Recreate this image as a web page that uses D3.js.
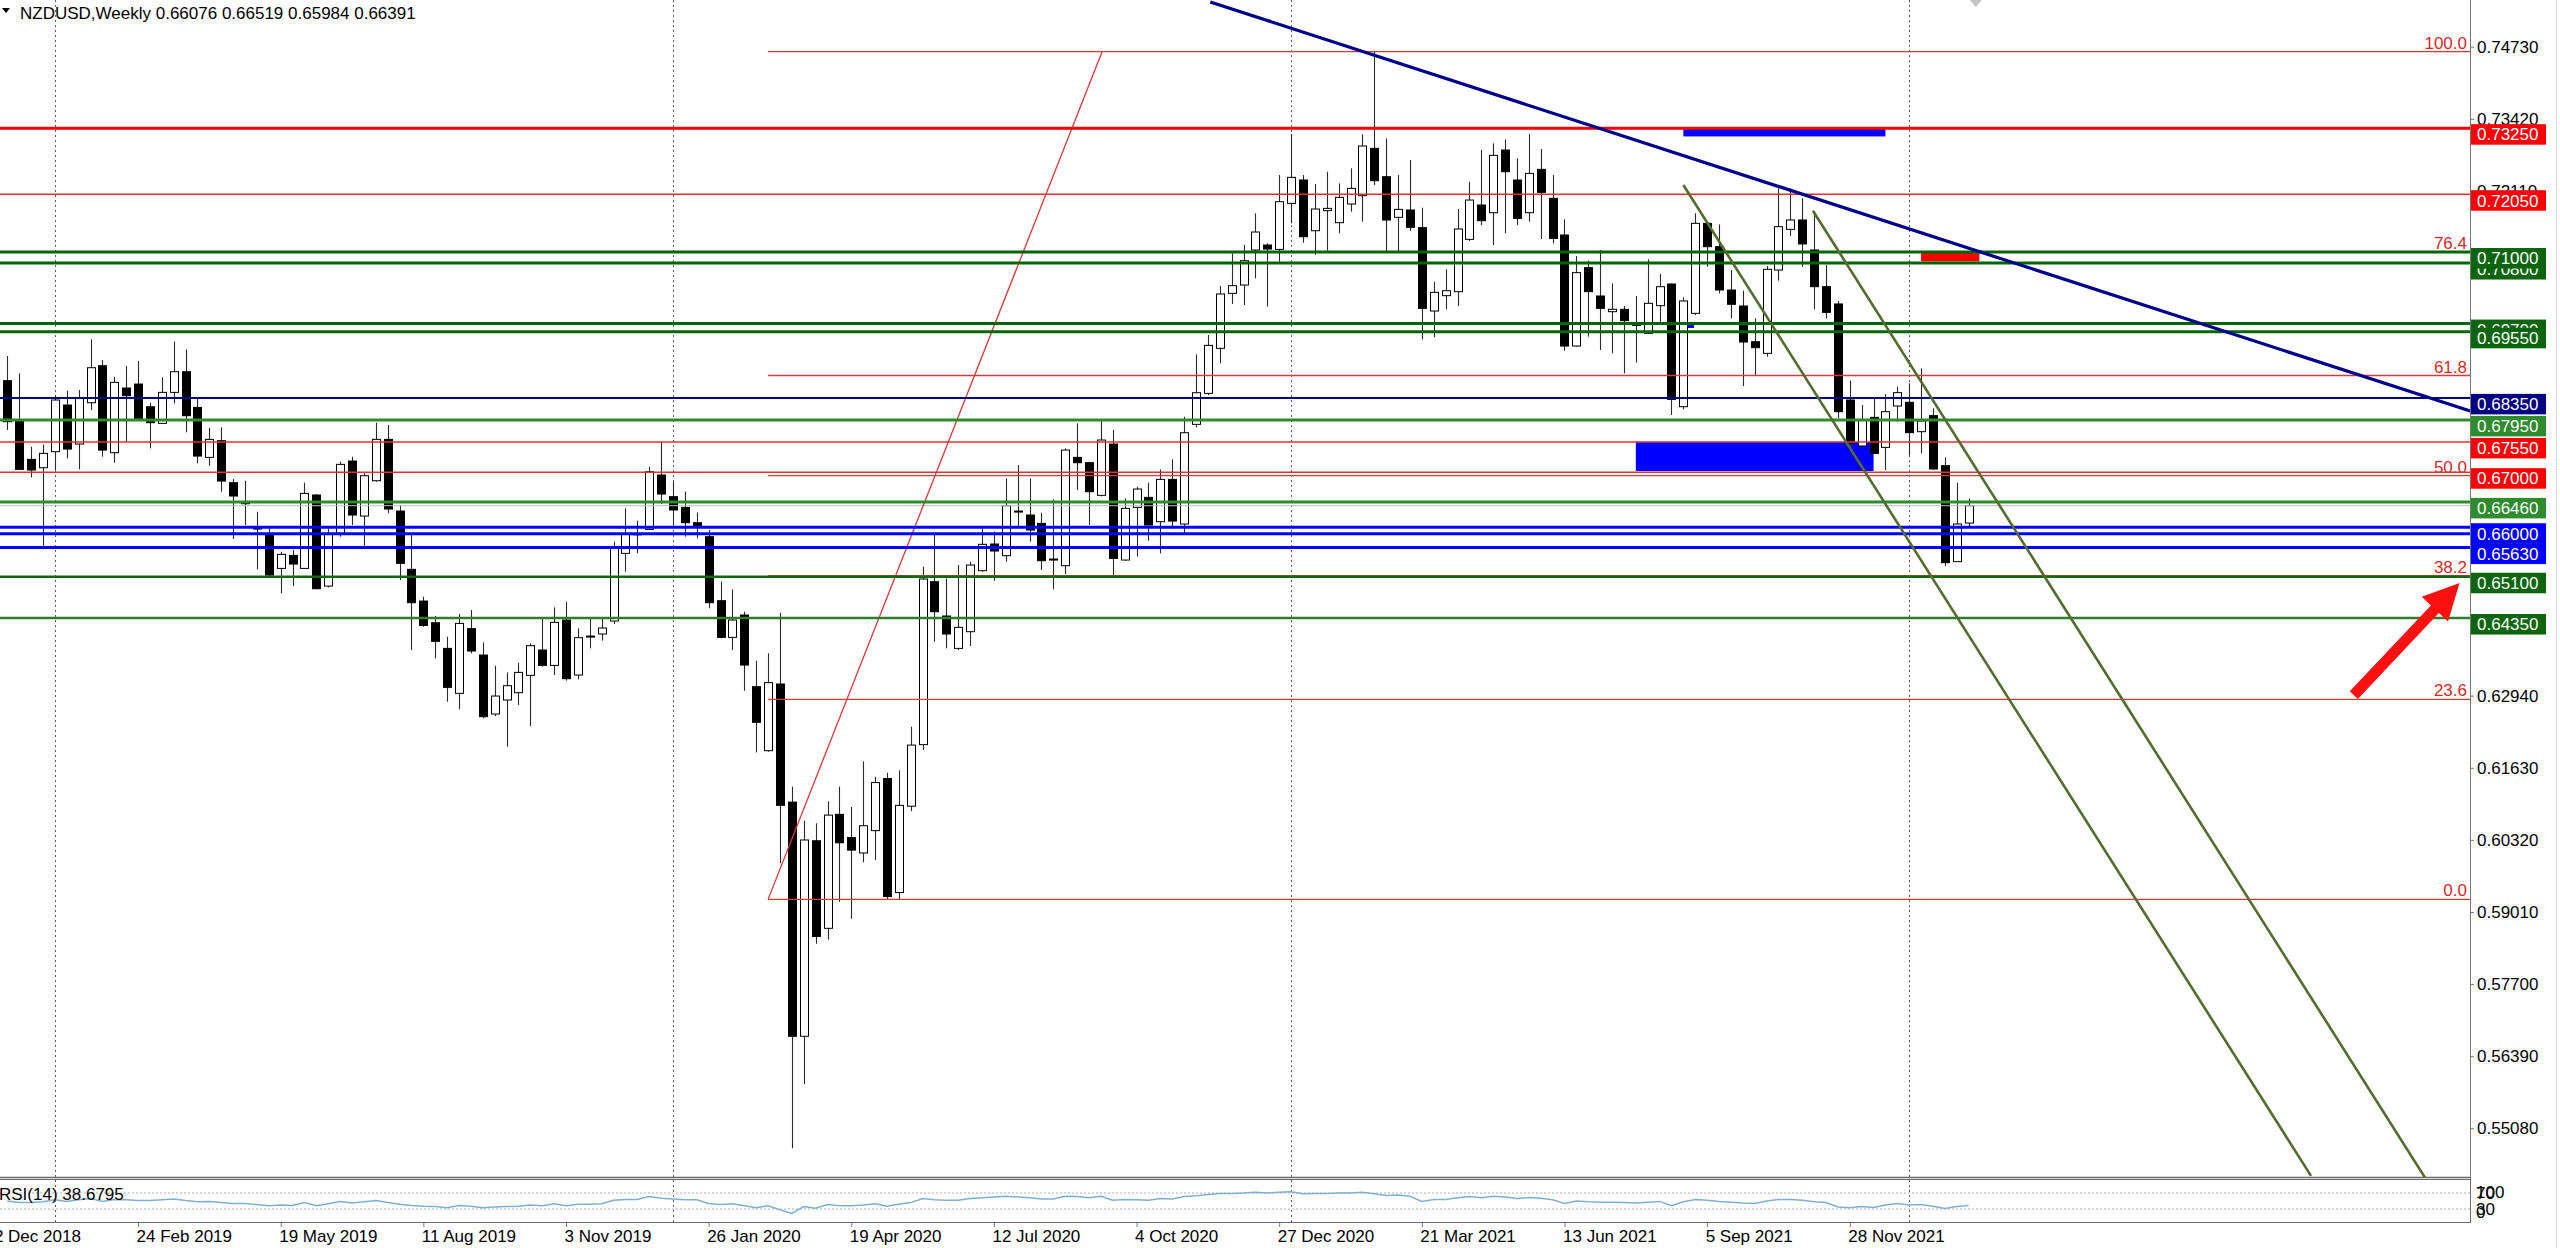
<!DOCTYPE html>
<html><head><meta charset="utf-8">
<script src="https://cdn.jsdelivr.net/npm/d3@7"></script>
<style>
html,body{margin:0;padding:0;background:#fff;overflow:hidden}
svg{display:block;font-family:"Liberation Sans",Arial,sans-serif}
</style></head><body>
<svg id="c" width="2560" height="1248"></svg>
<script>
// ---------------- DATA ----------------
const symbolTitle = "NZDUSD,Weekly";
const lastOHLC = ["0.66076", "0.66519", "0.65984", "0.66391"];

const opens = [0.68662,0.67947,0.67233,0.67081,0.67372,0.68220,0.67511,0.68262,0.68934,0.67354,
0.68529,0.68601,0.68189,0.67887,0.68450,0.68825,0.68177,0.67269,0.67572,0.66809,
0.66451,0.65985,0.65876,0.65252,0.65488,0.65252,0.66585,0.64931,0.65888,0.67202,
0.66203,0.66845,0.67596,0.66294,0.65235,0.64659,0.64265,0.63799,0.62982,0.64157,
0.63678,0.62606,0.62861,0.62994,0.63309,0.63769,0.63490,0.64314,0.63315,0.64023,
0.64060,0.64296,0.65525,0.65870,0.65961,0.66949,0.66555,0.66361,0.66082,0.65828,
0.64665,0.63999,0.64405,0.63103,0.61940,0.63152,0.61006,0.56752,0.60304,0.58713,
0.60784,0.60363,0.60082,0.60488,0.61435,0.59364,0.60932,0.62050,0.65010,0.64387,
0.63799,0.64102,0.65210,0.65695,0.65483,0.66294,0.66222,0.66070,0.65422,0.65301,
0.67269,0.67172,0.66579,0.67511,0.65404,0.66361,0.66542,0.66100,0.66869,0.66058,
0.67869,0.68432,0.69250,0.70249,0.70400,0.71036,0.71127,0.71048,0.71884,0.72308,
0.71387,0.71751,0.71533,0.71872,0.72023,0.72883,0.72368,0.71630,0.71763,0.71442,
0.69928,0.70207,0.70279,0.71230,0.71854,0.71714,0.72853,0.72308,0.71714,0.72502,
0.71975,0.71309,0.69292,0.70716,0.70201,0.69916,0.69959,0.69686,0.69523,0.70025,
0.70419,0.68190,0.69886,0.71521,0.71097,0.70310,0.70019,0.69371,0.69159,0.70673,
0.71412,0.71582,0.71037,0.70370,0.70056,0.68311,0.67476,0.67996,0.67451,0.68202,
0.68269,0.67736,0.68027,0.67118,0.65374,0.66076];

const highs = [0.69110,0.68795,0.67463,0.67505,0.68401,0.68480,0.68492,0.69413,0.69037,0.68734,
0.68928,0.69019,0.68262,0.68722,0.69370,0.69231,0.68341,0.67808,0.67814,0.66875,
0.66845,0.66282,0.65979,0.65555,0.65585,0.66809,0.66603,0.65979,0.67190,0.67281,
0.66978,0.67899,0.67857,0.66403,0.65858,0.64738,0.64387,0.64011,0.64423,0.64496,
0.63908,0.63484,0.63363,0.63539,0.63890,0.64344,0.64544,0.64647,0.64163,0.64344,
0.64344,0.65737,0.66343,0.66119,0.67100,0.67554,0.66827,0.66646,0.66270,0.65949,
0.65011,0.64871,0.64466,0.63575,0.63709,0.64446,0.61287,0.60673,0.60622,0.61021,
0.61287,0.60918,0.61746,0.61465,0.61539,0.61583,0.62375,0.65283,0.65888,0.65071,
0.65313,0.65374,0.65979,0.65919,0.66888,0.67130,0.66888,0.66264,0.66506,0.67433,
0.67887,0.67190,0.67947,0.67766,0.66524,0.66736,0.66809,0.67051,0.67233,0.68008,
0.69140,0.69492,0.70382,0.70975,0.71127,0.71702,0.71157,0.72399,0.73144,0.72399,
0.72235,0.72459,0.72247,0.72520,0.73138,0.74639,0.73065,0.72399,0.72671,0.71805,
0.70461,0.70685,0.71781,0.72278,0.72853,0.72974,0.73047,0.72701,0.73144,0.72871,
0.72399,0.71593,0.70928,0.70843,0.71037,0.70431,0.70019,0.70201,0.70867,0.70601,
0.70431,0.70177,0.71703,0.71540,0.71503,0.70673,0.70298,0.69795,0.70746,0.72157,
0.72157,0.71975,0.71745,0.70764,0.70110,0.68663,0.68221,0.68354,0.68420,0.68554,
0.68614,0.68887,0.68160,0.67270,0.66810,0.66519];

const lows = [0.67766,0.67039,0.66906,0.65616,0.67039,0.67251,0.67051,0.68129,0.67281,0.67172,
0.67554,0.67959,0.67432,0.67874,0.68250,0.67723,0.67160,0.67117,0.66645,0.65785,
0.66040,0.65234,0.65113,0.64798,0.64931,0.65240,0.64871,0.64907,0.65828,0.66040,
0.65634,0.66827,0.66252,0.65041,0.63769,0.64193,0.63618,0.62830,0.62691,0.63709,
0.62528,0.62570,0.62013,0.62770,0.62388,0.63466,0.63315,0.63212,0.63236,0.63799,
0.63939,0.64241,0.65192,0.65525,0.65949,0.66422,0.66040,0.65828,0.65798,0.64526,
0.63981,0.63769,0.63030,0.61910,0.61922,0.59897,0.54718,0.55887,0.58432,0.58506,
0.59194,0.58886,0.59912,0.59956,0.59231,0.59231,0.60843,0.61950,0.63920,0.63799,
0.63769,0.63842,0.65192,0.65028,0.65374,0.65979,0.65737,0.65222,0.64871,0.65150,
0.66676,0.66040,0.66560,0.65131,0.65392,0.65465,0.65755,0.65525,0.65979,0.65888,
0.67814,0.68402,0.68977,0.70055,0.70037,0.70521,0.70007,0.70824,0.71521,0.71169,
0.70945,0.71024,0.71339,0.71733,0.71551,0.72217,0.70988,0.71006,0.71381,0.69413,
0.69449,0.69958,0.70019,0.71200,0.71490,0.71127,0.71339,0.71490,0.71551,0.71236,
0.71157,0.69207,0.69280,0.69462,0.69220,0.69159,0.68796,0.68990,0.69510,0.69674,
0.68039,0.68142,0.69856,0.70734,0.70249,0.69795,0.68566,0.68766,0.69099,0.70479,
0.71291,0.70734,0.69959,0.69795,0.67978,0.67463,0.67470,0.67330,0.67040,0.67918,
0.67312,0.67342,0.67040,0.65295,0.65374,0.65984];

const closes = [0.67917,0.67051,0.67039,0.67342,0.68311,0.67420,0.68341,0.68898,0.67402,0.68632,
0.68389,0.67977,0.67899,0.68450,0.68825,0.68026,0.67293,0.67596,0.66839,0.66567,
0.66427,0.65967,0.65131,0.65507,0.65331,0.66615,0.64883,0.65888,0.67142,0.66221,
0.66936,0.67596,0.66331,0.65344,0.64629,0.64217,0.63927,0.63091,0.64253,0.63751,
0.62558,0.62933,0.63121,0.63363,0.63848,0.63490,0.64272,0.63248,0.63993,0.64011,
0.64169,0.65634,0.65870,0.65880,0.67009,0.66603,0.66313,0.66082,0.66022,0.64629,
0.63999,0.64314,0.63496,0.62455,0.63176,0.60947,0.56752,0.60318,0.58565,0.60770,
0.60267,0.60134,0.60577,0.61361,0.59290,0.60947,0.62042,0.65059,0.64465,0.64060,
0.64181,0.65313,0.65689,0.65568,0.66391,0.66282,0.65949,0.65392,0.65410,0.67402,
0.67172,0.66645,0.67584,0.65434,0.66343,0.66694,0.66040,0.66869,0.66112,0.67717,
0.68444,0.69304,0.70237,0.70388,0.70842,0.71363,0.71054,0.71914,0.72356,0.71278,
0.71781,0.71793,0.71993,0.72156,0.72926,0.72296,0.71581,0.71775,0.71448,0.69976,
0.70267,0.70297,0.71418,0.71944,0.71569,0.72756,0.72459,0.71611,0.72429,0.72084,
0.71248,0.69292,0.70625,0.70280,0.69977,0.69959,0.69753,0.69668,0.70068,0.70370,
0.68323,0.70110,0.71521,0.71097,0.70310,0.70050,0.69365,0.69262,0.70685,0.71460,
0.71582,0.71146,0.70370,0.69904,0.68099,0.67524,0.67948,0.67342,0.68099,0.68445,
0.67718,0.67930,0.67058,0.65356,0.66059,0.66391];

const rsiValues = [50,46,46,48,53,49,53,56,49,54, 53,51,51,53,55,51,48,49,46,44,
44,41,38,40,39,46,38,43,49,45, 48,51,46,42,39,37,36,33,39,37,
33,35,36,37,40,38,43,38,42,42, 43,52,54,54,61,57,55,53,53,44,
41,43,38,33,38,28,19,36,32,41, 38,38,40,43,37,42,46,56,53,52,
52,56,58,60,62,60,58,55,55,62, 61,58,62,52,54,53,52,56,55,61,
63,66,69,69,70,72,70,72,73,68, 69,69,70,70,72,68,64,65,62,49,
54,54,58,61,58,62,60,56,59,57, 53,44,50,48,47,47,46,45,47,49,
38,48,54,52,49,47,45,44,50,54, 54,52,48,46,35,33,36,34,40,44,
40,41,37,31,36,38.6795];
const rsiCaption = "RSI(14) 38.6795";
const rsiLevels = [70, 30];
const rsiTickLabels = [100, 70, 30, 0];

const priceTicks = [0.74730,0.73420,0.72110,0.70800,0.69490,0.68180,0.66870,0.65560,0.64250,0.62940,0.61630,0.60320,0.59010,0.57700,0.56390,0.55080];
const dateLabels = ["2 Dec 2018","24 Feb 2019","19 May 2019","11 Aug 2019","3 Nov 2019","26 Jan 2020","19 Apr 2020","12 Jul 2020","4 Oct 2020","27 Dec 2020","21 Mar 2021","13 Jun 2021","5 Sep 2021","28 Nov 2021"];
const dateLabelWeek = [-1,11,23,35,47,59,71,83,95,107,119,131,143,155];
const yearGridWeek = [4,56,108,160];
const chartShiftWeek = 165.6;

// horizontal levels (drawing order)
const levelPrices = [0.7325,0.7205,0.7080,0.7100,0.6970,0.6955,0.6835,0.6795,0.6755,0.6700,0.6646,0.6588,0.6600,0.6563,0.6510,0.6435];

// fibonacci retracement
const fibLow = 0.59239, fibHigh = 0.74639;
const fibStartWeek = 64, fibEndWeek = 92.1;
const fibRatios = [0, 23.6, 38.2, 50, 61.8, 76.4, 100];

// trend lines [week, price]
const trendLine = [[101.2, 0.75542], [207.2, 0.68111]];
const channelA = [[141.0, 0.72217], [193.8, 0.54216]];
const channelB = [[151.9, 0.71750], [203.4, 0.54181]];
// rectangles [week0, week1, priceTop, priceBottom]
const rectsBlue = [[141.0, 158.0, 0.7326, 0.7310], [137.0, 157.0, 0.6755, 0.6702], [141.3, 141.9, 0.6971, 0.6962]];
const rectsRed = [[161.0, 165.9, 0.7100, 0.7083]];
// arrow [week, price] tail -> tip
const arrowPts = [[197.4, 0.62950], [206.3, 0.64986]];

// ---------------- DRAW ----------------
const svg = d3.select("#c");
const PR = 2470, MAINB = 1177;
const x = d3.scaleLinear().domain([0, 165]).range([7.3, 7.3 + 165 * 11.887]);
const y = d3.scaleLinear().domain([0.55080, 0.74730]).range([1128.3, 46.7]);
const ry = d3.scaleLinear().domain([0, 100]).range([1221, 1181]);

svg.append("rect").attr("width", 2560).attr("height", 1248).attr("fill", "#fff");
const defs = svg.append("defs");
defs.append("clipPath").attr("id", "cm").append("rect").attr("x", 0).attr("y", 0).attr("width", PR).attr("height", MAINB);
defs.append("clipPath").attr("id", "cr").append("rect").attr("x", 0).attr("y", 1180).attr("width", PR).attr("height", 42);

// vertical dotted year grid
svg.append("g").selectAll("line").data(yearGridWeek).join("line")
  .attr("x1", d => Math.round(x(d)) + 0.5).attr("x2", d => Math.round(x(d)) + 0.5)
  .attr("y1", 0).attr("y2", 1222)
  .attr("stroke", "#5e5e5e").attr("stroke-width", 1).attr("stroke-dasharray", "2,3");

const main = svg.append("g").attr("clip-path", "url(#cm)");

// background rectangles
const rectG = main.append("g");
rectG.selectAll("rect.b").data(rectsBlue).join("rect").attr("class", "b")
  .attr("x", d => x(d[0])).attr("width", d => x(d[1]) - x(d[0]))
  .attr("y", d => y(d[2])).attr("height", d => y(d[3]) - y(d[2]))
  .attr("fill", "#0000ff");
rectG.selectAll("rect.r").data(rectsRed).join("rect").attr("class", "r")
  .attr("x", d => x(d[0])).attr("width", d => x(d[1]) - x(d[0]))
  .attr("y", d => y(d[2])).attr("height", d => y(d[3]) - y(d[2]))
  .attr("fill", "#ff0000");

// candles
const idx = d3.range(opens.length);
const cg = main.append("g");
cg.selectAll("line").data(idx).join("line")
  .attr("x1", i => Math.round(x(i)) + 0.5).attr("x2", i => Math.round(x(i)) + 0.5)
  .attr("y1", i => y(highs[i])).attr("y2", i => y(lows[i]))
  .attr("stroke", "#2a2a2a").attr("stroke-width", 1.1);
cg.selectAll("rect").data(idx).join("rect")
  .attr("x", i => Math.round(x(i)) - 3.5).attr("width", 8)
  .attr("y", i => y(Math.max(opens[i], closes[i])))
  .attr("height", i => Math.max(1, Math.abs(y(opens[i]) - y(closes[i]))))
  .attr("fill", i => closes[i] >= opens[i] ? "#fff" : "#000")
  .attr("stroke", "#000").attr("stroke-width", 1);

// bid line
main.append("line").attr("x1", 0).attr("x2", PR).attr("y1", y(closes[closes.length - 1])).attr("y2", y(closes[closes.length - 1]))
  .attr("stroke", "#bdbdbd").attr("stroke-width", 1);

// fib
const fibPrice = r => fibLow + (fibHigh - fibLow) * r / 100;
const fibG = main.append("g");
fibG.selectAll("line").data(fibRatios).join("line")
  .attr("x1", x(fibStartWeek)).attr("x2", PR)
  .attr("y1", r => y(fibPrice(r))).attr("y2", r => y(fibPrice(r)))
  .attr("stroke", "#d83a3a").attr("stroke-width", 1.3);
fibG.append("line").attr("x1", x(fibStartWeek)).attr("y1", y(fibLow)).attr("x2", x(fibEndWeek)).attr("y2", y(fibHigh))
  .attr("stroke", "#d83a3a").attr("stroke-width", 1.3);
fibG.selectAll("text").data(fibRatios).join("text")
  .attr("x", PR - 3).attr("y", r => y(fibPrice(r)) - 3).attr("text-anchor", "end")
  .attr("font-size", 17).attr("fill", "#d42a2a").text(r => r.toFixed(1));

// horizontal levels
const levelStyle = [
  ["#ff0000", 3], ["#dc3434", 1.5], ["#006400", 3], ["#006400", 3], ["#006400", 3], ["#006400", 3],
  ["#000080", 2], ["#2e8b2e", 3], ["#dc3434", 1.5], ["#dc3434", 1.5], ["#2e8b2e", 3],
  ["#0000ff", 3], ["#0000ff", 3], ["#0000ff", 3], ["#0f6a0f", 2.5], ["#2e7d2e", 2.5]];
const levelBox = ["#ff0000", "#ff0000", "#0a640a", "#0a640a", "#0a640a", "#0a640a", "#000080", "#2e8b2e",
  "#ff0000", "#ff0000", "#2e8b2e", "#0000ff", "#0000ff", "#0000ff", "#0a640a", "#0a640a"];
main.append("g").selectAll("line").data(levelPrices).join("line")
  .attr("x1", 0).attr("x2", PR).attr("y1", p => y(p)).attr("y2", p => y(p))
  .attr("stroke", (p, i) => levelStyle[i][0]).attr("stroke-width", (p, i) => levelStyle[i][1]);

// trend & channel lines
const lineGen = d3.line().x(d => x(d[0])).y(d => y(d[1]));
main.append("path").attr("d", lineGen(trendLine)).attr("stroke", "#00008b").attr("stroke-width", 3.2).attr("fill", "none");
main.append("path").attr("d", lineGen(channelA)).attr("stroke", "#556b2f").attr("stroke-width", 2.6).attr("fill", "none");
main.append("path").attr("d", lineGen(channelB)).attr("stroke", "#556b2f").attr("stroke-width", 2.6).attr("fill", "none");

// arrow
(function () {
  const [t0, t1] = arrowPts;
  const ax = x(t0[0]), ay = y(t0[1]), bx = x(t1[0]), by = y(t1[1]);
  const dx = bx - ax, dy = by - ay, L = Math.hypot(dx, dy);
  const ux = dx / L, uy = dy / L, nx = -uy, ny = ux;
  const hl = 36, hw = 18, sw = 5.5;
  const cx = bx - ux * hl, cy = by - uy * hl;
  const pts = [[ax + nx * sw, ay + ny * sw], [cx + nx * sw, cy + ny * sw], [cx + nx * hw, cy + ny * hw], [bx, by],
    [cx - nx * hw, cy - ny * hw], [cx - nx * sw, cy - ny * sw], [ax - nx * sw, ay - ny * sw]];
  main.append("polygon").attr("points", pts.map(p => p.join(",")).join(" ")).attr("fill", "#ff1010");
})();

// chart shift marker
(function () {
  const sx = x(chartShiftWeek);
  svg.append("polygon").attr("points", `${sx - 6},0 ${sx + 6},0 ${sx},7`).attr("fill", "#c4c4c4");
})();

// frame lines
svg.append("line").attr("x1", PR + 0.5).attr("x2", PR + 0.5).attr("y1", 0).attr("y2", 1223).attr("stroke", "#777").attr("stroke-width", 1);
svg.append("line").attr("x1", 0).attr("x2", PR).attr("y1", 1177.5).attr("y2", 1177.5).attr("stroke", "#6a6a6a").attr("stroke-width", 1.5);
svg.append("rect").attr("x", -1).attr("y", 1179.5).attr("width", PR + 1.5).attr("height", 43).attr("fill", "none").attr("stroke", "#6a6a6a").attr("stroke-width", 1);
svg.append("line").attr("x1", 2556.5).attr("x2", 2556.5).attr("y1", 0).attr("y2", 1248).attr("stroke", "#d8d8d8");

// price axis
const pa = svg.append("g").attr("transform", `translate(${PR},0)`)
  .call(d3.axisRight(y).tickValues(priceTicks).tickSize(4).tickFormat(d => d.toFixed(5)));
pa.select(".domain").remove();
pa.selectAll("text").attr("font-size", 17).attr("font-family", "Liberation Sans, Arial, sans-serif").attr("fill", "#000").attr("x", 7);
pa.selectAll("line").attr("stroke", "#777");

// level label boxes
const lb = svg.append("g").selectAll("g").data(levelPrices).join("g");
lb.append("rect").attr("x", PR + 1).attr("width", 75).attr("y", p => y(p) - 4).attr("height", 20.5)
  .attr("fill", (p, i) => levelBox[i]);
lb.append("text").attr("x", PR + 7).attr("y", p => y(p) + 12.3).attr("font-size", 17).attr("fill", "#fff")
  .text(p => p.toFixed(5));

// date axis
const da = svg.append("g").attr("transform", "translate(0,1223)")
  .call(d3.axisBottom(x).tickValues(dateLabelWeek).tickSize(4).tickFormat((d, i) => dateLabels[i]));
da.select(".domain").remove();
da.selectAll("text").attr("font-size", 17).attr("font-family", "Liberation Sans, Arial, sans-serif").attr("fill", "#000")
  .attr("text-anchor", "start").attr("x", -2);
da.selectAll("line").attr("stroke", "#777");

// RSI panel
const rg = svg.append("g").attr("clip-path", "url(#cr)");
rg.selectAll("line").data(rsiLevels).join("line").attr("x1", 0).attr("x2", PR)
  .attr("y1", d => ry(d)).attr("y2", d => ry(d)).attr("stroke", "#b0b0b0").attr("stroke-dasharray", "2,2");
rg.append("path").attr("d", d3.line().x((d, i) => x(i)).y(d => ry(d))(rsiValues))
  .attr("fill", "none").attr("stroke", "#7fb0d0").attr("stroke-width", 1.5);
svg.append("text").attr("x", -1).attr("y", 1200).attr("font-size", 17).attr("fill", "#000").text(rsiCaption);
svg.append("g").selectAll("text").data(rsiTickLabels).join("text")
  .attr("x", PR + 6).attr("y", d => Math.min(1212, Math.max(1192, ry(d))) + 6)
  .attr("font-size", 17).attr("fill", "#000").text(d => d);

// header
svg.append("polygon").attr("points", "2,8 10,8 6,13").attr("fill", "#000");
svg.append("text").attr("x", 20).attr("y", 18.5).attr("font-size", 17).attr("fill", "#000")
  .text(symbolTitle + "  " + lastOHLC.join(" "));
</script>
</body></html>
